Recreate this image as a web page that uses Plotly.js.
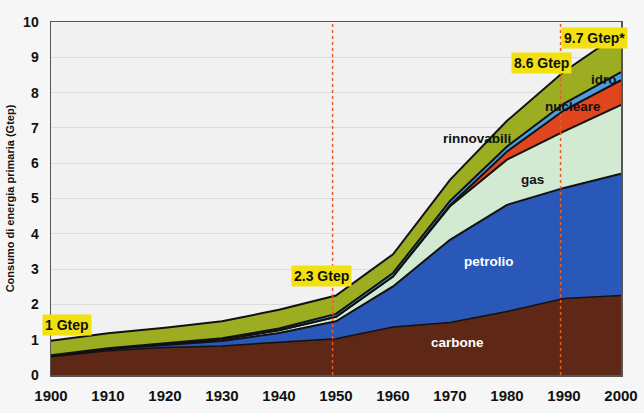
<!DOCTYPE html>
<html>
<head>
<meta charset="utf-8">
<script src="https://cdn.plot.ly/plotly-3.0.1.min.js"></script>
<style>html,body{margin:0;padding:0;background:#f6f6f6;}#chart{width:644px;height:413px;}</style>
</head>
<body>
<div id="chart"></div>
<script>
// Data (Gtep)
const years = [1900, 1910, 1920, 1930, 1940, 1950, 1960, 1970, 1980, 1990, 2000];
const carbone     = [0.52, 0.69, 0.78, 0.82, 0.93, 1.03, 1.36, 1.49, 1.80, 2.17, 2.25];
const petrolio    = [0.02, 0.04, 0.07, 0.14, 0.26, 0.49, 1.15, 2.34, 3.02, 3.13, 3.45];
const gas         = [0.01, 0.02, 0.03, 0.05, 0.08, 0.13, 0.28, 0.95, 1.28, 1.60, 1.95];
const nucleare    = [0.00, 0.00, 0.00, 0.00, 0.00, 0.00, 0.00, 0.03, 0.23, 0.60, 0.70];
const idro        = [0.01, 0.01, 0.02, 0.03, 0.05, 0.08, 0.10, 0.12, 0.14, 0.19, 0.23];
const rinnovabili = [0.41, 0.42, 0.44, 0.48, 0.53, 0.52, 0.53, 0.60, 0.73, 0.91, 1.12];

const seriesNames = ["carbone", "petrolio", "gas", "nucleare", "idro", "rinnovabili"];
const totalLabels = ["1 Gtep", "2.3 Gtep", "8.6 Gtep", "9.7 Gtep*"];
const markerYears = [1949.4, 1989.4];
const tickYears = [1900, 1910, 1920, 1930, 1940, 1950, 1960, 1970, 1980, 1990, 2000];
const yTicks = [0,1,2,3,4,5,6,7,8,9,10];

const seriesData = [carbone, petrolio, gas, nucleare, idro, rinnovabili];
const fills = ["#5e2716", "#2a58b8", "#d2ead2", "#e0461e", "#4b9fdf", "#9cad22"];

const traces = seriesData.map((vals, i) => ({
  x: years, y: vals, name: seriesNames[i], type: "scatter", mode: "lines",
  stackgroup: "energia",
  line: {color: "#111111", width: i === 0 ? 1.5 : 2},
  fillcolor: fills[i],
  hoverinfo: "skip"
}));

const FONT = "Liberation Sans, Arial, sans-serif";

const boxLabel = (text, x, y) => ({
  x: x, y: y, xref: "x", yref: "y", text: text, showarrow: false,
  bgcolor: "#f2e10e", borderpad: 2,
  font: {family: FONT, size: 14, color: "#111", weight: "bold"}
});
const seriesLabel = (text, x, y, color) => ({
  x: x, y: y, xref: "x", yref: "y", text: text, showarrow: false,
  font: {family: FONT, size: 13.5, color: color, weight: "bold"}
});

const layout = {
  width: 644, height: 413,
  margin: {l: 51, r: 23, t: 22, b: 38},
  paper_bgcolor: "#f6f6f6",
  plot_bgcolor: "#f1f1f1",
  showlegend: false,
  xaxis: {
    range: [1900, 2000], tickvals: tickYears, ticktext: tickYears.map(String),
    showgrid: false, zeroline: false, showline: true, mirror: true,
    linecolor: "#555", linewidth: 1.5, ticks: "", ticklen: 0,
    ticklabelstandoff: 6,
    tickfont: {family: FONT, size: 15, color: "#111", weight: "bold"}
  },
  yaxis: {
    range: [0, 10], tickvals: yTicks, showgrid: true, gridcolor: "#dcdcdc", gridwidth: 1,
    zeroline: false, showline: true, mirror: true, linecolor: "#555", linewidth: 1.5,
    ticks: "", ticklen: 0, ticklabelstandoff: 8,
    tickfont: {family: FONT, size: 14, color: "#111", weight: "bold"},
    title: {text: "Consumo di energia primaria (Gtep)", standoff: 6,
            font: {family: FONT, size: 11, color: "#111", weight: "bold"}}
  },
  shapes: markerYears.map(yr => ({
    type: "line", xref: "x", yref: "paper", x0: yr, x1: yr, y0: 0, y1: 1,
    line: {color: "#e0602c", width: 1.5, dash: "dot"}, layer: "above"
  })),
  annotations: [
    boxLabel(totalLabels[0], 1902.75, 1.43),
    boxLabel(totalLabels[1], 1947.5, 2.81),
    boxLabel(totalLabels[2], 1986.1, 8.85),
    boxLabel(totalLabels[3], 1995.3, 9.56),
    seriesLabel(seriesNames[0], 1971.4, 0.92, "#ffffff"),
    seriesLabel(seriesNames[1], 1976.9, 3.21, "#ffffff"),
    seriesLabel(seriesNames[2], 1984.4, 5.53, "#111111"),
    seriesLabel(seriesNames[5], 1974.7, 6.69, "#111111"),
    seriesLabel(seriesNames[3], 1991.6, 7.62, "#111111"),
    seriesLabel(seriesNames[4], 1997.0, 8.36, "#111111")
  ]
};

Plotly.newPlot("chart", traces, layout, {displayModeBar: false, staticPlot: true});
</script>
</body>
</html>
